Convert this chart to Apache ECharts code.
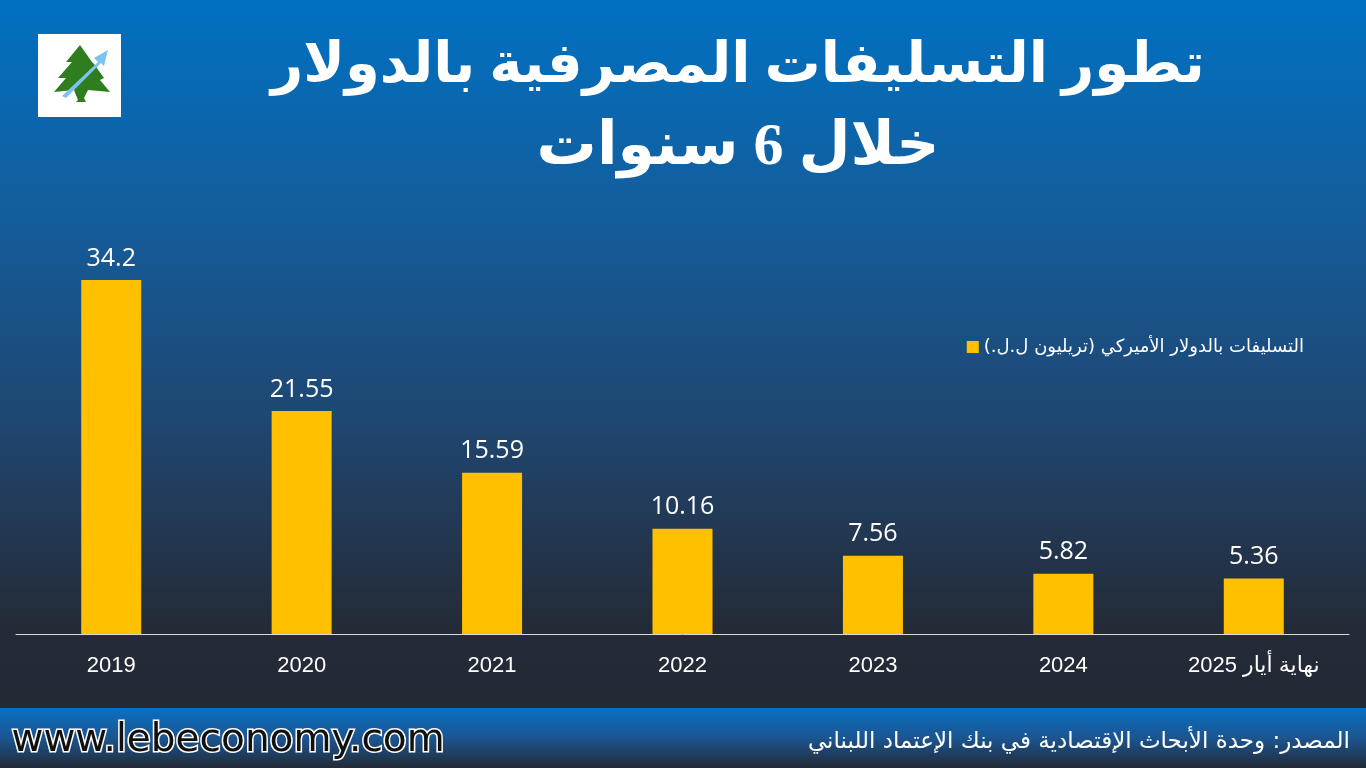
<!DOCTYPE html>
<html>
<head>
<meta charset="utf-8">
<script src="https://cdn.jsdelivr.net/npm/echarts@6/dist/echarts.min.js"></script>
<style>
html,body{margin:0;padding:0;width:1366px;height:768px;overflow:hidden;background:#232a36;}
#chart{width:1366px;height:768px;}
</style>
</head>
<body>
<div id="chart" dir="rtl"></div>
<script>
const categories = ['2019', '2020', '2021', '2022', '2023', '2024', 'نهاية أيار 2025'];
const loanValues = [34.2, 21.55, 15.59, 10.16, 7.56, 5.82, 5.36];
const seriesName = 'التسليفات بالدولار الأميركي (تريليون ل.ل.)';
const titleLine1 = 'تطور التسليفات المصرفية بالدولار';
const titleLine2 = 'خلال 6 سنوات';
const sourceText = 'المصدر: وحدة الأبحاث الإقتصادية في بنك الإعتماد اللبناني';
const siteText = 'www.lebeconomy.com';

const chart = echarts.init(document.getElementById('chart'), null, {renderer: 'canvas'});

const bgGradient = new echarts.graphic.LinearGradient(0, 0, 0, 1, [
  {offset: 0, color: '#0071c2'},
  {offset: 0.3, color: '#145d9c'},
  {offset: 0.6, color: '#1f4670'},
  {offset: 0.88, color: '#242b38'},
  {offset: 1, color: '#232a36'}
]);
const bandGradient = new echarts.graphic.LinearGradient(0, 0, 0, 1, [
  {offset: 0, color: '#0a70c4'},
  {offset: 0.5, color: '#1b5590'},
  {offset: 1, color: '#232a36'}
]);

const option = {
  backgroundColor: '#232a36',
  animation: false,
  graphic: [
    {type: 'rect', z: -10, silent: true, shape: {x: 0, y: 0, width: 1366, height: 708}, style: {fill: bgGradient}},
    {type: 'rect', z: -10, silent: true, shape: {x: 0, y: 708, width: 1366, height: 60}, style: {fill: bandGradient}},
    // logo
    {type: 'rect', shape: {x: 38, y: 34, width: 83, height: 83}, style: {fill: '#ffffff'}},
    {type: 'polygon', shape: {points: [[80,45],[66,62],[72,62],[58,78],[66,78],[54,92],[74,90],[78,100],[76,102],[86,102],[84,98],[88,90],[110,92],[100,80],[104,78],[94,64],[92,62]]}, style: {fill: '#2e7d1f'}},
    {type: 'polygon', shape: {points: [[62,96],[98,62],[94,58],[108,50],[104,66],[101,63],[66,98]]}, style: {fill: '#7cc3ee'}},
    {type: 'text', x: 738, y: 40, style: {text: titleLine1, fill: '#ffffff', font: 'bold 56px "Liberation Serif", "DejaVu Sans", serif', textAlign: 'center'}},
    {type: 'text', x: 738, y: 118, style: {text: titleLine2, fill: '#ffffff', font: 'bold 60px "Liberation Serif", "DejaVu Sans", serif', textAlign: 'center'}},
    {type: 'text', right: 16, top: 731, style: {text: sourceText, fill: '#ffffff', font: '23px "DejaVu Sans", sans-serif'}},
    {type: 'text', left: 10, top: 720, style: {text: siteText, fill: '#111111', font: '39px "DejaVu Sans", sans-serif', stroke: '#ffffff', lineWidth: 3, shadowColor: '#4aa0ff', shadowBlur: 4}}
  ],
  legend: {
    show: true,
    right: 57,
    top: 333,
    itemWidth: 12,
    itemHeight: 12,
    itemGap: 8,
    icon: 'rect',
    textStyle: {color: '#ffffff', fontSize: 18, fontFamily: '"DejaVu Sans", sans-serif'},
    data: [seriesName]
  },
  grid: {left: 16, right: 17, top: 220, bottom: 134, containLabel: false},
  xAxis: {
    type: 'category',
    data: categories,
    axisLine: {show: true, lineStyle: {color: '#d9d9d9', width: 1}},
    axisTick: {show: false},
    axisLabel: {color: '#ffffff', fontSize: 22, margin: 21, fontFamily: '"Liberation Sans", "DejaVu Sans", sans-serif'}
  },
  yAxis: {
    type: 'value',
    min: 0,
    max: 40,
    show: false,
    splitLine: {show: false}
  },
  series: [{
    name: seriesName,
    type: 'bar',
    data: loanValues,
    barWidth: 60,
    itemStyle: {color: '#ffc000'},
    label: {
      show: true,
      position: 'top',
      distance: 9,
      color: '#ffffff',
      fontSize: 25,
      fontFamily: '"Open Sans", sans-serif'
    }
  }]
};
chart.setOption(option);
</script>
</body>
</html>
